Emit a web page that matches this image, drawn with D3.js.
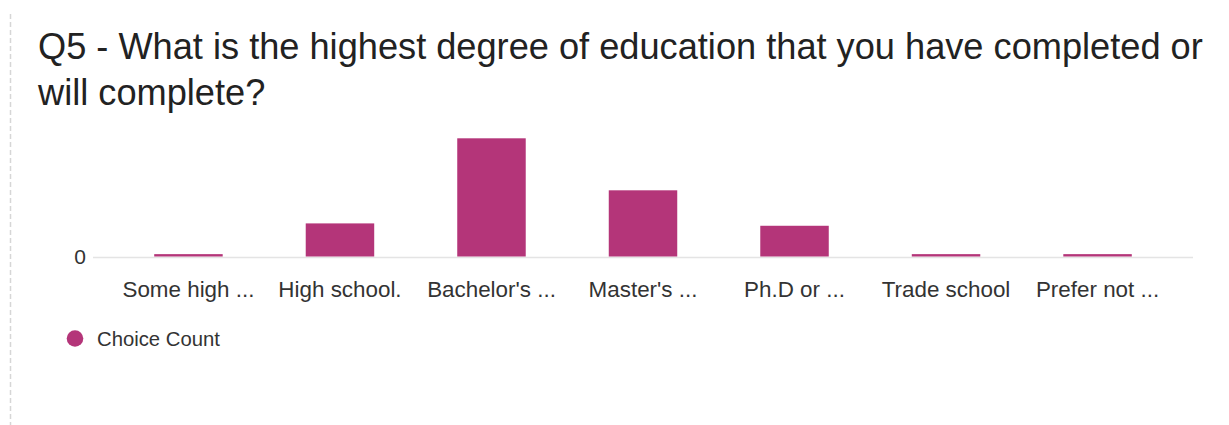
<!DOCTYPE html>
<html>
<head>
<meta charset="utf-8">
<script src="https://cdn.jsdelivr.net/npm/d3@7"></script>
<style>
  html, body { margin: 0; padding: 0; background: #fff; }
  svg { display: block; font-family: "Liberation Sans", Arial, Helvetica, sans-serif; }
</style>
</head>
<body>
<svg id="chart" width="1229" height="425"></svg>
<script>
// Survey question and answer counts
const titleLines = [
  "Q5 - What is the highest degree of education that you have completed or",
  "will complete?"
];
const categories = ["Some high ...", "High school.", "Bachelor's ...", "Master's ...", "Ph.D or ...", "Trade school", "Prefer not ..."];
const choiceCount = [1, 14, 50, 28, 13, 1, 1];
const yTicks = [0];
const seriesName = "Choice Count";

const barColor = "#b43579";
const svg = d3.select("#chart");

// Dashed left border of the panel
svg.append("line")
  .attr("x1", 10.5).attr("x2", 10.5)
  .attr("y1", 14).attr("y2", 425)
  .attr("stroke", "#d6d6d6")
  .attr("stroke-width", 1.5)
  .attr("stroke-dasharray", "5,3");

// Title
svg.append("g")
  .selectAll("text")
  .data(titleLines)
  .join("text")
  .attr("x", 38)
  .attr("y", (d, i) => 59 + i * 46)
  .attr("font-size", 36.2)
  .attr("fill", "#222")
  .text(d => d);

// Scales
const x = d3.scaleBand()
  .domain(categories)
  .range([93, 1193])
  .paddingInner(0.548)
  .paddingOuter(0.404);

const y = d3.scaleLinear()
  .domain([0, 50])
  .range([256.5, 138.3]);

// Baseline grid line at zero
svg.append("g")
  .selectAll("line")
  .data(yTicks)
  .join("line")
  .attr("x1", 93).attr("x2", 1193)
  .attr("y1", d => Math.round(y(d)) + 0.5)
  .attr("y2", d => Math.round(y(d)) + 0.5)
  .attr("stroke", "#e4e4e4")
  .attr("stroke-width", 1.5);

// Y axis tick labels
svg.append("g")
  .selectAll("text")
  .data(yTicks)
  .join("text")
  .attr("x", 86)
  .attr("y", d => y(d))
  .attr("dy", "0.35em")
  .attr("text-anchor", "end")
  .attr("font-size", 21)
  .attr("fill", "#333")
  .text(d => d);

// Bars
svg.append("g")
  .selectAll("rect")
  .data(categories.map((c, i) => ({ c, v: choiceCount[i] })))
  .join("rect")
  .attr("x", d => x(d.c))
  .attr("width", x.bandwidth())
  .attr("y", d => y(d.v))
  .attr("height", d => y(0) - y(d.v))
  .attr("fill", barColor);

// X axis category labels
const xAxis = d3.axisBottom(x).tickSize(0).tickPadding(0);
const gx = svg.append("g").call(xAxis);
gx.select(".domain").remove();
gx.selectAll("text")
  .attr("y", 297)
  .attr("dy", null)
  .attr("font-size", 22.4)
  .attr("font-family", "Liberation Sans, Arial, sans-serif")
  .attr("fill", "#333");

// Legend
const legend = svg.append("g").attr("transform", "translate(75,338.5)");
legend.append("circle").attr("r", 8.3).attr("fill", barColor);
legend.append("text")
  .attr("x", 22)
  .attr("y", 0)
  .attr("dy", "0.35em")
  .attr("font-size", 20.3)
  .attr("fill", "#333")
  .text(seriesName);
</script>
</body>
</html>
